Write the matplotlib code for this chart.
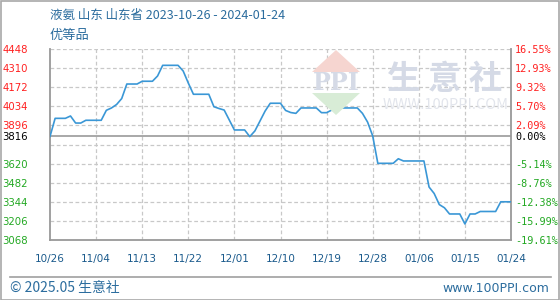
import matplotlib
matplotlib.use("Agg")
import matplotlib.pyplot as plt
from matplotlib.patches import Polygon, Rectangle
from matplotlib.lines import Line2D
import pandas as pd

plt.rcParams['font.family'] = ['Noto Sans CJK SC', 'DejaVu Sans']

title_text = "液氨 山东 山东省 2023-10-26 - 2024-01-24"
subtitle_text = "优等品"
start_date = "2023-10-26"
end_date = "2024-01-24"
base_price = 3816
prices = [
    3816, 3947, 3947, 3947, 3964, 3913, 3913, 3933, 3933, 3933,
    3933, 4005, 4022, 4047, 4090, 4195, 4195, 4195, 4215, 4215,
    4215, 4253, 4330, 4330, 4330, 4330, 4289, 4202, 4121, 4121,
    4121, 4121, 4031, 4018, 4007, 3935, 3863, 3863, 3863, 3815,
    3856, 3928, 4000, 4056, 4056, 4056, 4004, 3989, 3983, 4022,
    4022, 4022, 4022, 3988, 3988, 4007, 4022, 4022, 4022, 4022,
    4022, 3983, 3920, 3820, 3622, 3622, 3622, 3622, 3655, 3639,
    3639, 3639, 3639, 3639, 3451, 3404, 3324, 3301, 3256, 3256,
    3256, 3184, 3256, 3256, 3274, 3274, 3274, 3274, 3344, 3344,
    3344,
]
ytick_values = [3068, 3206, 3344, 3482, 3620, 3816, 3896, 4034, 4172, 4310, 4448]
grid_values = [3206, 3344, 3482, 3620, 3758, 3896, 4034, 4172, 4310, 4448]
pct_labels = ["-19.61%", "-15.99%", "-12.38%", "-8.76%", "-5.14%", "0.00%",
              "2.09%", "5.70%", "9.32%", "12.93%", "16.55%"]
xtick_labels = ["10/26", "11/04", "11/13", "11/22", "12/01", "12/10",
                "12/19", "12/28", "01/06", "01/15", "01/24"]
footer_left = "© 2025.05 生意社"
footer_right = "www.100PPI.com"

dates = pd.date_range(start_date, end_date, freq="D")
days = list(range(len(dates)))

W, H = 560, 300
fig = plt.figure(figsize=(W / 100, H / 100), dpi=100)
fig.patch.set_facecolor("white")

def fx(px):
    return px / W

def fy(py):
    return 1 - py / H

ax = fig.add_axes([fx(50), fy(240), fx(511) - fx(50), fy(49) - fy(240)])
ax.set_xlim(0, len(dates) - 1)
ax.set_ylim(3068, 4448)

# watermark
wm_color = "#d5dae6"
fig.patches.append(Polygon([(fx(312), fy(72)), (fx(336), fy(50)), (fx(360), fy(72))],
                           closed=True, transform=fig.transFigure, facecolor="#f6d5d0",
                           edgecolor="none", zorder=0))
fig.patches.append(Polygon([(fx(312), fy(93)), (fx(336), fy(115)), (fx(360), fy(93))],
                           closed=True, transform=fig.transFigure, facecolor="#d8ecd6",
                           edgecolor="none", zorder=0))
fig.text(fx(336), fy(83), "PPI", ha="center", va="center", fontsize=17,
         family="DejaVu Serif", color=wm_color, fontweight="bold", zorder=0)
fig.text(fx(445), fy(80), "生 意 社", ha="center", va="center", fontsize=24,
         color=wm_color, fontweight="bold", zorder=0)
fig.text(fx(446), fy(105), "WWW.100PPI.COM", ha="center", va="center", fontsize=10.5,
         color="#e2e5ec", zorder=0)
ax.patch.set_alpha(0)

for g in grid_values:
    ax.axhline(g, color="#c8c8c8", lw=0.9, ls=(0, (3, 2)), zorder=1)
for t in range(9, len(dates) - 1, 9):
    ax.axvline(t, color="#c8c8c8", lw=0.9, ls=(0, (3, 2)), zorder=1)
ax.axhline(base_price, color="#999999", lw=1.2, zorder=2)

ax.plot(days, prices, color="#3a97d6", lw=1.2, zorder=3)

for side in ["left", "bottom", "right"]:
    ax.spines[side].set_color("#999999")
    ax.spines[side].set_linewidth(1.3)
ax.spines["top"].set_visible(False)

ax.set_xticks(list(range(0, len(dates), 9)))
ax.set_xticklabels(xtick_labels, fontsize=7.5, color="#1a5a8c", family="DejaVu Sans")
ax.tick_params(axis="x", length=0, pad=10)

ax.set_yticks(ytick_values)
ax.set_yticklabels([str(v) for v in ytick_values], fontsize=7.3, family="DejaVu Sans")
ax.tick_params(axis="y", length=0, pad=16)
for lab, v in zip(ax.get_yticklabels(), ytick_values):
    lab.set_color("#ff2020" if v > base_price else ("#000000" if v == base_price else "#22a822"))

ax2 = ax.twinx()
ax2.set_ylim(ax.get_ylim())
ax2.set_yticks(ytick_values)
ax2.set_yticklabels(pct_labels, fontsize=7.3, family="DejaVu Sans Mono")
ax2.tick_params(axis="y", length=0, pad=3)
for lab, v in zip(ax2.get_yticklabels(), ytick_values):
    lab.set_color("#ff2020" if v > base_price else ("#000000" if v == base_price else "#22a822"))
for s in ax2.spines.values():
    s.set_visible(False)

fig.text(fx(50), fy(15), title_text, ha="left", va="center", fontsize=9, color="#2c6d9e")
fig.text(fx(50), fy(35), subtitle_text, ha="left", va="center", fontsize=9.5, color="#2c6d9e")

fig.add_artist(Line2D([fx(10), fx(551)], [fy(277), fy(277)], color="#a0a0a0", lw=1.2))
fig.text(fx(10), fy(288), footer_left, ha="left", va="center", fontsize=10, color="#2c6d9e")
fig.text(fx(549), fy(288), footer_right, ha="right", va="center", fontsize=9,
         color="#2c6d9e", family="DejaVu Sans")

fig.add_artist(Rectangle((0.5 / W, 0.5 / H), 1 - 1.5 / W, 1 - 1.5 / H, transform=fig.transFigure,
                         fill=False, edgecolor="#a8a8a8", lw=1.2))

fig.savefig("out.png", dpi=100)
